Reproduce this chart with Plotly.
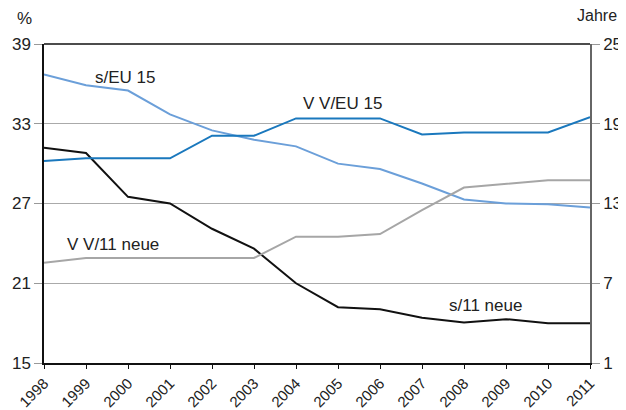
import plotly.graph_objects as go

years = list(range(1998, 2012))
s_eu15 = [36.7, 35.9, 35.5, 33.7, 32.5, 31.8, 31.3, 30.0, 29.6, 28.5, 27.3, 27.0, 26.95, 26.7]
s_11neue = [31.2, 30.8, 27.5, 27.0, 25.1, 23.6, 21.0, 19.2, 19.05, 18.4, 18.05, 18.3, 18.0, 18.0]
vv_eu15 = [16.2, 16.4, 16.4, 16.4, 18.1, 18.1, 19.4, 19.4, 19.4, 18.2, 18.35, 18.35, 18.35, 19.5]
vv_11neue = [8.55, 8.9, 8.9, 8.9, 8.9, 8.9, 10.5, 10.5, 10.7, 12.5, 14.2, 14.5, 14.75, 14.75]

left_ticks = [15, 21, 27, 33, 39]
right_ticks = [1, 7, 13, 19, 25]

font = "Liberation Sans, Arial, sans-serif"

fig = go.Figure()
fig.add_trace(go.Scatter(x=years, y=s_eu15, mode="lines", line=dict(color="#6b9fd9", width=2), yaxis="y"))
fig.add_trace(go.Scatter(x=years, y=s_11neue, mode="lines", line=dict(color="#111111", width=2), yaxis="y"))
fig.add_trace(go.Scatter(x=years, y=vv_eu15, mode="lines", line=dict(color="#1a78bd", width=2), yaxis="y2"))
fig.add_trace(go.Scatter(x=years, y=vv_11neue, mode="lines", line=dict(color="#a6a6a6", width=2), yaxis="y2"))

fig.update_layout(
    width=618, height=402,
    margin=dict(l=36, r=36, t=36, b=47),
    plot_bgcolor="white", paper_bgcolor="white",
    showlegend=False,
    font=dict(family=font, size=17, color="#222"),
    xaxis=dict(range=[1998, 2011], tickmode="array", tickvals=years, ticktext=[str(y) for y in years],
               tickangle=-45, showgrid=False, showline=True, linecolor="#111", linewidth=1.5,
               ticks="outside", ticklen=4, tickcolor="#111", tickfont=dict(size=15), zeroline=False,
               automargin=False),
    yaxis=dict(range=[15, 39], tickmode="array", tickvals=left_ticks, showgrid=True, gridcolor="#aaaaaa",
               gridwidth=1.3, showline=True, linecolor="#111", linewidth=1.5, ticks="outside", ticklen=8,
               tickcolor="#999", zeroline=False, tickfont=dict(size=17), automargin=False),
    yaxis2=dict(range=[1, 25], tickmode="array", tickvals=right_ticks, overlaying="y", side="right",
                showgrid=False, showline=True, linecolor="#666", linewidth=1.5, ticks="outside", ticklen=8,
                tickcolor="#999", zeroline=False, tickfont=dict(size=17), automargin=False),
    shapes=[dict(type="line", xref="paper", yref="paper", x0=0, x1=1, y0=1, y1=1,
                 line=dict(color="#111", width=1.5))],
    annotations=[
        dict(text="%", xref="paper", yref="paper", x=-0.036, y=1.08, xanchor="center", yanchor="middle",
             showarrow=False, font=dict(size=17)),
        dict(text="Jahre", xref="paper", yref="paper", x=1.052, y=1.09, xanchor="right", yanchor="middle",
             showarrow=False, borderpad=0, font=dict(size=16)),
        dict(text="s/EU 15", x=1999.92, y=36.5, xanchor="center", yanchor="middle", showarrow=False,
             font=dict(size=17)),
        dict(text="V V/EU 15", x=2005.11, y=20.49, yref="y2", xanchor="center", yanchor="middle",
             showarrow=False, font=dict(size=17)),
        dict(text="V V/11 neue", x=1999.65, y=23.9, xanchor="center", yanchor="middle", showarrow=False,
             font=dict(size=17)),
        dict(text="s/11 neue", x=2008.5, y=19.36, xanchor="center", yanchor="middle", showarrow=False,
             font=dict(size=17)),
    ],
)

fig.write_html("out.html")
